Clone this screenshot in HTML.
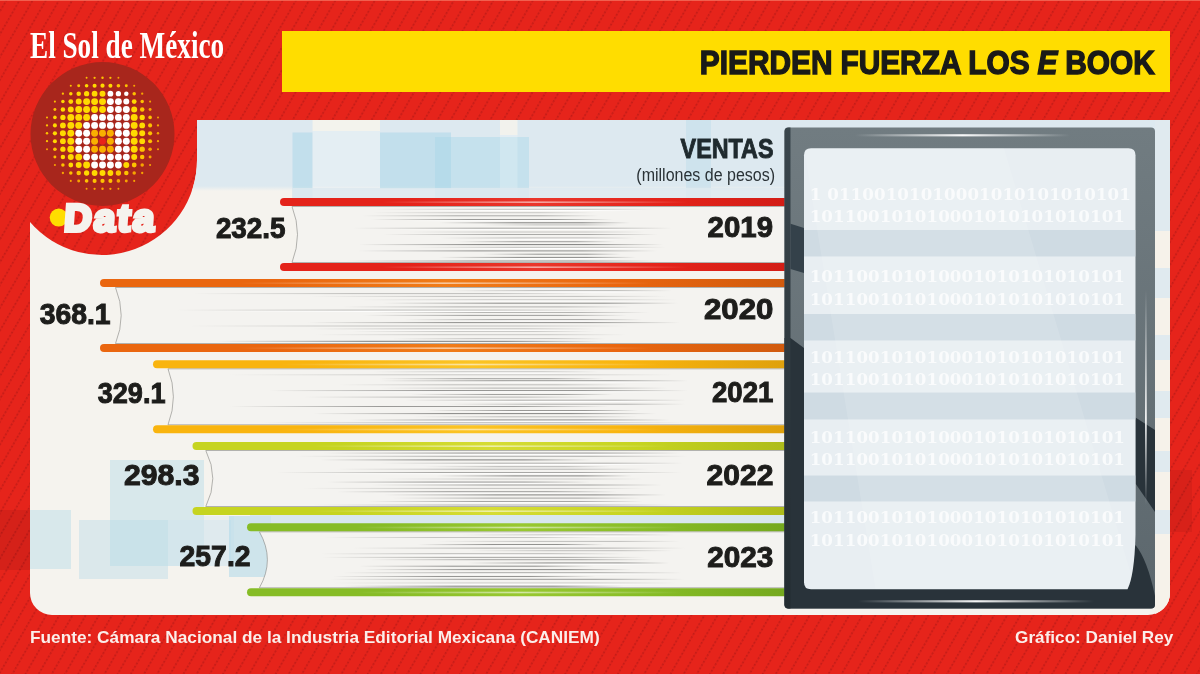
<!DOCTYPE html>
<html lang="es"><head><meta charset="utf-8"><title>Pierden fuerza los e book</title>
<style>
html,body{margin:0;padding:0;background:#e6241b;}
#root{position:relative;width:1200px;height:674px;overflow:hidden;background:#e6241b;font-family:"Liberation Sans",sans-serif;}
#art{position:absolute;left:0;top:0;}
.t{position:absolute;white-space:nowrap;line-height:1;margin:0;}
.num{font-weight:bold;font-size:29.4px;color:#1d1d1b;-webkit-text-stroke:1px #1d1d1b;transform-origin:100% 50%;}
.yr{font-weight:bold;font-size:29.4px;color:#1d1d1b;-webkit-text-stroke:1px #1d1d1b;text-align:right;transform-origin:100% 50%;}
.bin{font-family:"DejaVu Serif",serif;font-weight:bold;font-size:16.65px;color:rgba(255,255,255,.74);letter-spacing:.1px;}
</style></head><body>
<div id="root">

<svg id="art" width="1200" height="674" viewBox="0 0 1200 674">
<defs>
<pattern id="stripes" width="11.4" height="3.8" patternUnits="userSpaceOnUse" patternTransform="rotate(30)">
  <rect x="5.2" y="0" width="1" height="3.8" fill="#c41c1a" opacity=".42"/>
  <rect x="5" y="0" width="1.3" height="1.5" fill="#a01212" opacity=".6"/>
</pattern>
<clipPath id="panelclip"><path id="pp" d="M197,120 L1170,120 L1170,593 A22,22 0 0 1 1148,615 L52,615 A22,22 0 0 1 30,593 L30,222 A95,95 0 0 0 197,160 Z"/></clipPath>
<linearGradient id="topband" x1="0" y1="0" x2="0" y2="1">
  <stop offset="0" stop-color="#dde9f0"/><stop offset=".93" stop-color="#dde9f0"/><stop offset="1" stop-color="#f5f3ee"/>
</linearGradient>
<linearGradient id="frameg" x1="0" y1="0" x2="0" y2="1">
  <stop offset="0" stop-color="#717c81"/><stop offset="1" stop-color="#5c676d"/>
</linearGradient>
<linearGradient id="stripg" x1="0" y1="0" x2="0" y2="1"><stop offset="0" stop-color="#3a464d"/><stop offset="1" stop-color="#232c31"/></linearGradient>
<linearGradient id="hl" x1="0" y1="0" x2="1" y2="0">
  <stop offset="0" stop-color="#fff" stop-opacity="0"/><stop offset=".5" stop-color="#fff" stop-opacity=".95"/><stop offset="1" stop-color="#fff" stop-opacity="0"/>
</linearGradient>
<linearGradient id="hlv" x1="0" y1="0" x2="0" y2="1">
  <stop offset="0" stop-color="#fff" stop-opacity="0"/><stop offset=".6" stop-color="#fff" stop-opacity=".9"/><stop offset="1" stop-color="#fff" stop-opacity="0"/>
</linearGradient>

<linearGradient id="gb1" x1="0" y1="0" x2="1" y2="0"><stop offset="0" stop-color="#e4231a"/><stop offset=".25" stop-color="#e4231a"/><stop offset=".5" stop-color="#ea362b"/><stop offset=".75" stop-color="#e4231a"/><stop offset="1" stop-color="#d21d16"/></linearGradient>
<linearGradient id="gb2" x1="0" y1="0" x2="1" y2="0"><stop offset="0" stop-color="#ea660f"/><stop offset=".25" stop-color="#ea660f"/><stop offset=".5" stop-color="#f07c18"/><stop offset=".75" stop-color="#ea660f"/><stop offset="1" stop-color="#d05a0e"/></linearGradient>
<linearGradient id="gb3" x1="0" y1="0" x2="1" y2="0"><stop offset="0" stop-color="#f9b40e"/><stop offset=".25" stop-color="#f9b40e"/><stop offset=".5" stop-color="#fbc424"/><stop offset=".75" stop-color="#f9b40e"/><stop offset="1" stop-color="#dea00c"/></linearGradient>
<linearGradient id="gb4" x1="0" y1="0" x2="1" y2="0"><stop offset="0" stop-color="#c6d420"/><stop offset=".25" stop-color="#c6d420"/><stop offset=".5" stop-color="#d6dc34"/><stop offset=".75" stop-color="#c6d420"/><stop offset="1" stop-color="#adbb1a"/></linearGradient>
<linearGradient id="gb5" x1="0" y1="0" x2="1" y2="0"><stop offset="0" stop-color="#86bc26"/><stop offset=".25" stop-color="#86bc26"/><stop offset=".5" stop-color="#98c830"/><stop offset=".75" stop-color="#86bc26"/><stop offset="1" stop-color="#74a81e"/></linearGradient>
<linearGradient id="pagefade" x1="0" y1="0" x2="1" y2="0"><stop offset="0" stop-color="#f4f2ee"/><stop offset="1" stop-color="#efeeeb"/></linearGradient>
</defs>
<rect x="0" y="0" width="1200" height="674" fill="#e6241b"/>
<rect x="0" y="0" width="1200" height="674" fill="url(#stripes)"/>
<rect x="0" y="0" width="1200" height="1" fill="#f26a58" opacity=".85"/>
<rect x="0" y="510" width="30" height="60" fill="#000" opacity=".07"/>
<rect x="1170" y="470" width="22" height="62" fill="#000" opacity=".06"/>
<use href="#pp" fill="#f5f3ee"/>
<g clip-path="url(#panelclip)">
<rect x="30" y="120" width="1140" height="71" fill="url(#topband)"/>
<rect x="292.5" y="132.5" width="20" height="65.5" fill="#a8d6e8" opacity="0.5"/>
<rect x="312.5" y="120" width="67.5" height="11" fill="#f7f4ec" opacity="0.85"/>
<rect x="312.5" y="131" width="67.5" height="58" fill="#ffffff" opacity="0.22"/>
<rect x="380" y="132.5" width="71" height="56.5" fill="#a8d6e8" opacity="0.5"/>
<rect x="435" y="137" width="94" height="61" fill="#a8d6e8" opacity="0.45"/>
<rect x="500" y="120" width="17.5" height="15" fill="#f7f4ec" opacity="0.8"/>
<rect x="500" y="135" width="17.5" height="63" fill="#ffffff" opacity="0.2"/>
<rect x="686" y="120" width="25" height="78" fill="#b9d9e8" opacity="0.4"/>
<rect x="292.5" y="188" width="493" height="10" fill="#dde9f0" opacity="0.85"/>
<rect x="110" y="460" width="94" height="106" fill="#b0d8e8" opacity="0.42"/>
<rect x="30" y="510" width="41" height="59" fill="#b0d8e8" opacity="0.42"/>
<rect x="79" y="520" width="89" height="59" fill="#b0d8e8" opacity="0.38"/>
<rect x="168" y="520" width="63" height="46" fill="#cfe3ee" opacity="0.4"/>
<rect x="204" y="516" width="30" height="50" fill="#cfe3ee" opacity="0.3"/>
<rect x="229" y="516" width="42" height="61" fill="#a8d6e8" opacity="0.5"/>
<rect x="250" y="515" width="536" height="9" fill="#cfe3ee" opacity="0.75"/>
<rect x="1155" y="120" width="15" height="495" fill="#e0eaef" opacity="1"/>
<rect x="1155" y="231" width="15" height="37" fill="#f6f2ea" opacity="1"/>
<rect x="1155" y="298" width="15" height="37" fill="#f6f2ea" opacity="1"/>
<rect x="1155" y="360" width="15" height="31" fill="#f6f2ea" opacity="1"/>
<rect x="1155" y="418" width="15" height="33" fill="#f6f2ea" opacity="1"/>
<rect x="1155" y="472" width="15" height="38" fill="#f6f2ea" opacity="1"/>
<rect x="1155" y="534" width="15" height="81" fill="#f6f2ea" opacity="1"/>
</g>
<path d="M292,206 L790,206 L790,263 L292,263 Q303.0,234.5 292,206 Z" fill="#f4f3f0"/>
<rect x="375" y="208.8" width="280" height="1" fill="url(#ln)" opacity="0.40"/>
<rect x="405" y="210.0" width="240" height="1.1" fill="url(#lw)" opacity=".9"/>
<rect x="372" y="212.2" width="223" height="1" fill="url(#ln)" opacity="0.37"/>
<rect x="362" y="215.3" width="237" height="1" fill="url(#ln)" opacity="0.63"/>
<rect x="371" y="219.0" width="242" height="1" fill="url(#ln)" opacity="0.76"/>
<rect x="401" y="220.2" width="202" height="1.1" fill="url(#lw)" opacity=".9"/>
<rect x="439" y="222.3" width="191" height="1" fill="url(#ln)" opacity="0.98"/>
<rect x="481" y="224.4" width="138" height="1" fill="url(#ln)" opacity="0.44"/>
<rect x="353" y="227.7" width="319" height="1" fill="url(#ln)" opacity="0.73"/>
<rect x="383" y="228.9" width="279" height="1.1" fill="url(#lw)" opacity=".9"/>
<rect x="408" y="231.5" width="237" height="1" fill="url(#ln)" opacity="0.39"/>
<rect x="383" y="234.0" width="275" height="1" fill="url(#ln)" opacity="0.63"/>
<rect x="440" y="237.5" width="195" height="1" fill="url(#ln)" opacity="0.54"/>
<rect x="470" y="238.7" width="155" height="1.1" fill="url(#lw)" opacity=".9"/>
<rect x="457" y="241.2" width="158" height="1" fill="url(#ln)" opacity="0.72"/>
<rect x="359" y="244.1" width="304" height="1" fill="url(#ln)" opacity="0.99"/>
<rect x="415" y="246.8" width="251" height="1" fill="url(#ln)" opacity="0.45"/>
<rect x="445" y="248.0" width="211" height="1.1" fill="url(#lw)" opacity=".9"/>
<rect x="358" y="250.4" width="299" height="1" fill="url(#ln)" opacity="0.85"/>
<rect x="483" y="253.7" width="138" height="1" fill="url(#ln)" opacity="0.80"/>
<rect x="439" y="256.9" width="197" height="1" fill="url(#ln)" opacity="0.90"/>
<rect x="469" y="258.1" width="157" height="1.1" fill="url(#lw)" opacity=".9"/>
<rect x="346" y="260.5" width="311" height="1" fill="url(#ln)" opacity="0.81"/>
<path d="M790,206.5 L292,206.5 Q303.0,234.5 292,262.5 L790,262.5" fill="none" stroke="#8a8a88" stroke-width=".8" opacity=".8"/>
<rect x="280" y="198" width="510" height="8" rx="4" fill="url(#gb1)"/>
<rect x="382" y="201.4" width="306" height="1.6" fill="url(#hl)" opacity=".6"/>
<rect x="280" y="263" width="510" height="8" rx="4" fill="url(#gb1)"/>
<rect x="382" y="266.4" width="306" height="1.6" fill="url(#hl)" opacity=".6"/>
<path d="M115.5,287 L790,287 L790,344 L115.5,344 Q126.9,315.5 115.5,287 Z" fill="#f4f3f0"/>
<rect x="449" y="290.2" width="223" height="1" fill="url(#ln)" opacity="0.53"/>
<rect x="479" y="291.4" width="183" height="1.1" fill="url(#lw)" opacity=".9"/>
<rect x="193" y="293.1" width="399" height="1" fill="url(#ln)" opacity="0.46"/>
<rect x="309" y="295.9" width="358" height="1" fill="url(#ln)" opacity="0.43"/>
<rect x="359" y="299.3" width="318" height="1" fill="url(#ln)" opacity="0.40"/>
<rect x="389" y="300.5" width="278" height="1.1" fill="url(#lw)" opacity=".9"/>
<rect x="382" y="302.7" width="296" height="1" fill="url(#ln)" opacity="0.88"/>
<rect x="342" y="306.4" width="290" height="1" fill="url(#ln)" opacity="0.58"/>
<rect x="176" y="309.6" width="429" height="1" fill="url(#ln)" opacity="0.50"/>
<rect x="206" y="310.8" width="389" height="1.1" fill="url(#lw)" opacity=".9"/>
<rect x="373" y="312.0" width="276" height="1" fill="url(#ln)" opacity="0.52"/>
<rect x="363" y="314.9" width="264" height="1" fill="url(#ln)" opacity="0.72"/>
<rect x="404" y="319.2" width="238" height="1" fill="url(#ln)" opacity="0.75"/>
<rect x="434" y="320.4" width="198" height="1.1" fill="url(#lw)" opacity=".9"/>
<rect x="308" y="322.1" width="372" height="1" fill="url(#ln)" opacity="0.86"/>
<rect x="189" y="325.5" width="440" height="1" fill="url(#ln)" opacity="0.42"/>
<rect x="309" y="328.4" width="287" height="1" fill="url(#ln)" opacity="0.49"/>
<rect x="339" y="329.6" width="247" height="1.1" fill="url(#lw)" opacity=".9"/>
<rect x="351" y="331.0" width="244" height="1" fill="url(#ln)" opacity="0.35"/>
<rect x="315" y="334.2" width="311" height="1" fill="url(#ln)" opacity="0.37"/>
<rect x="392" y="338.3" width="213" height="1" fill="url(#ln)" opacity="0.51"/>
<rect x="422" y="339.5" width="173" height="1.1" fill="url(#lw)" opacity=".9"/>
<rect x="216" y="340.8" width="386" height="1" fill="url(#ln)" opacity="1.00"/>
<path d="M790,287.5 L115.5,287.5 Q126.9,315.5 115.5,343.5 L790,343.5" fill="none" stroke="#8a8a88" stroke-width=".8" opacity=".8"/>
<rect x="100" y="279" width="690" height="8" rx="4" fill="url(#gb2)"/>
<rect x="238" y="282.4" width="414" height="1.6" fill="url(#hl)" opacity=".6"/>
<rect x="100" y="344" width="690" height="8" rx="4" fill="url(#gb2)"/>
<rect x="238" y="347.4" width="414" height="1.6" fill="url(#hl)" opacity=".6"/>
<path d="M168,368.3 L790,368.3 L790,425.3 L168,425.3 Q178.8,396.8 168,368.3 Z" fill="#f4f3f0"/>
<rect x="373" y="371.3" width="226" height="1" fill="url(#ln)" opacity="0.42"/>
<rect x="403" y="372.5" width="186" height="1.1" fill="url(#lw)" opacity=".9"/>
<rect x="228" y="374.3" width="445" height="1" fill="url(#ln)" opacity="0.37"/>
<rect x="379" y="378.2" width="225" height="1" fill="url(#ln)" opacity="0.70"/>
<rect x="379" y="380.3" width="309" height="1" fill="url(#ln)" opacity="0.91"/>
<rect x="409" y="381.5" width="269" height="1.1" fill="url(#lw)" opacity=".9"/>
<rect x="339" y="384.3" width="288" height="1" fill="url(#ln)" opacity="0.46"/>
<rect x="380" y="387.6" width="288" height="1" fill="url(#ln)" opacity="0.56"/>
<rect x="269" y="390.1" width="419" height="1" fill="url(#ln)" opacity="0.87"/>
<rect x="299" y="391.3" width="379" height="1.1" fill="url(#lw)" opacity=".9"/>
<rect x="411" y="394.0" width="202" height="1" fill="url(#ln)" opacity="0.69"/>
<rect x="304" y="396.6" width="288" height="1" fill="url(#ln)" opacity="0.53"/>
<rect x="404" y="399.7" width="282" height="1" fill="url(#ln)" opacity="0.64"/>
<rect x="434" y="400.9" width="242" height="1.1" fill="url(#lw)" opacity=".9"/>
<rect x="448" y="403.7" width="237" height="1" fill="url(#ln)" opacity="0.59"/>
<rect x="230" y="406.0" width="379" height="1" fill="url(#ln)" opacity="0.76"/>
<rect x="426" y="410.0" width="212" height="1" fill="url(#ln)" opacity="0.77"/>
<rect x="456" y="411.2" width="172" height="1.1" fill="url(#lw)" opacity=".9"/>
<rect x="313" y="413.1" width="343" height="1" fill="url(#ln)" opacity="0.94"/>
<rect x="413" y="416.3" width="225" height="1" fill="url(#ln)" opacity="0.47"/>
<rect x="350" y="419.5" width="320" height="1" fill="url(#ln)" opacity="0.98"/>
<rect x="380" y="420.7" width="280" height="1.1" fill="url(#lw)" opacity=".9"/>
<rect x="261" y="422.2" width="423" height="1" fill="url(#ln)" opacity="0.46"/>
<path d="M790,368.8 L168,368.8 Q178.8,396.8 168,424.8 L790,424.8" fill="none" stroke="#8a8a88" stroke-width=".8" opacity=".8"/>
<rect x="153" y="360.3" width="637" height="8" rx="4" fill="url(#gb3)"/>
<rect x="280" y="363.7" width="382" height="1.6" fill="url(#hl)" opacity=".6"/>
<rect x="153" y="425.3" width="637" height="8" rx="4" fill="url(#gb3)"/>
<rect x="280" y="428.7" width="382" height="1.6" fill="url(#hl)" opacity=".6"/>
<path d="M205.8,450 L790,450 L790,507 L205.8,507 Q219.8,478.5 205.8,450 Z" fill="#f4f3f0"/>
<rect x="323" y="452.6" width="358" height="1" fill="url(#ln)" opacity="0.87"/>
<rect x="353" y="453.8" width="318" height="1.1" fill="url(#lw)" opacity=".9"/>
<rect x="295" y="455.8" width="393" height="1" fill="url(#ln)" opacity="0.58"/>
<rect x="320" y="459.4" width="272" height="1" fill="url(#ln)" opacity="0.98"/>
<rect x="379" y="462.7" width="304" height="1" fill="url(#ln)" opacity="0.63"/>
<rect x="409" y="463.9" width="264" height="1.1" fill="url(#lw)" opacity=".9"/>
<rect x="424" y="466.2" width="187" height="1" fill="url(#ln)" opacity="0.51"/>
<rect x="336" y="468.7" width="313" height="1" fill="url(#ln)" opacity="0.52"/>
<rect x="277" y="472.0" width="404" height="1" fill="url(#ln)" opacity="0.65"/>
<rect x="307" y="473.2" width="364" height="1.1" fill="url(#lw)" opacity=".9"/>
<rect x="436" y="475.4" width="196" height="1" fill="url(#ln)" opacity="0.95"/>
<rect x="380" y="478.5" width="263" height="1" fill="url(#ln)" opacity="0.36"/>
<rect x="327" y="481.6" width="263" height="1" fill="url(#ln)" opacity="0.87"/>
<rect x="357" y="482.8" width="223" height="1.1" fill="url(#lw)" opacity=".9"/>
<rect x="371" y="484.5" width="291" height="1" fill="url(#ln)" opacity="0.71"/>
<rect x="303" y="487.9" width="343" height="1" fill="url(#ln)" opacity="0.42"/>
<rect x="337" y="491.3" width="280" height="1" fill="url(#ln)" opacity="0.85"/>
<rect x="367" y="492.5" width="240" height="1.1" fill="url(#lw)" opacity=".9"/>
<rect x="384" y="494.4" width="282" height="1" fill="url(#ln)" opacity="0.94"/>
<rect x="392" y="497.6" width="249" height="1" fill="url(#ln)" opacity="0.68"/>
<rect x="368" y="501.0" width="275" height="1" fill="url(#ln)" opacity="0.66"/>
<rect x="398" y="502.2" width="235" height="1.1" fill="url(#lw)" opacity=".9"/>
<rect x="312" y="504.5" width="365" height="1" fill="url(#ln)" opacity="0.52"/>
<path d="M790,450.5 L205.8,450.5 Q219.8,478.5 205.8,506.5 L790,506.5" fill="none" stroke="#8a8a88" stroke-width=".8" opacity=".8"/>
<rect x="192.5" y="442" width="597.5" height="8" rx="4" fill="url(#gb4)"/>
<rect x="312" y="445.4" width="358" height="1.6" fill="url(#hl)" opacity=".6"/>
<rect x="192.5" y="507" width="597.5" height="8" rx="4" fill="url(#gb4)"/>
<rect x="312" y="510.4" width="358" height="1.6" fill="url(#hl)" opacity=".6"/>
<path d="M259.4,531.3 L790,531.3 L790,588.3 L259.4,588.3 Q275.4,559.8 259.4,531.3 Z" fill="#f4f3f0"/>
<rect x="461" y="534.4" width="213" height="1" fill="url(#ln)" opacity="0.44"/>
<rect x="491" y="535.6" width="173" height="1.1" fill="url(#lw)" opacity=".9"/>
<rect x="324" y="537.0" width="273" height="1" fill="url(#ln)" opacity="0.40"/>
<rect x="437" y="540.9" width="243" height="1" fill="url(#ln)" opacity="0.45"/>
<rect x="418" y="544.1" width="186" height="1" fill="url(#ln)" opacity="0.92"/>
<rect x="448" y="545.3" width="146" height="1.1" fill="url(#lw)" opacity=".9"/>
<rect x="352" y="547.6" width="333" height="1" fill="url(#ln)" opacity="0.61"/>
<rect x="468" y="550.2" width="205" height="1" fill="url(#ln)" opacity="0.45"/>
<rect x="321" y="553.3" width="303" height="1" fill="url(#ln)" opacity="0.56"/>
<rect x="351" y="554.5" width="263" height="1.1" fill="url(#lw)" opacity=".9"/>
<rect x="322" y="556.9" width="323" height="1" fill="url(#ln)" opacity="0.64"/>
<rect x="369" y="559.2" width="283" height="1" fill="url(#ln)" opacity="0.68"/>
<rect x="467" y="562.5" width="202" height="1" fill="url(#ln)" opacity="0.98"/>
<rect x="497" y="563.7" width="162" height="1.1" fill="url(#lw)" opacity=".9"/>
<rect x="359" y="565.7" width="235" height="1" fill="url(#ln)" opacity="0.86"/>
<rect x="364" y="569.1" width="268" height="1" fill="url(#ln)" opacity="0.88"/>
<rect x="342" y="572.3" width="340" height="1" fill="url(#ln)" opacity="0.72"/>
<rect x="372" y="573.5" width="300" height="1.1" fill="url(#lw)" opacity=".9"/>
<rect x="333" y="576.0" width="263" height="1" fill="url(#ln)" opacity="0.80"/>
<rect x="330" y="578.8" width="354" height="1" fill="url(#ln)" opacity="0.76"/>
<rect x="332" y="582.5" width="344" height="1" fill="url(#ln)" opacity="0.39"/>
<rect x="362" y="583.7" width="304" height="1.1" fill="url(#lw)" opacity=".9"/>
<rect x="343" y="585.7" width="281" height="1" fill="url(#ln)" opacity="0.95"/>
<path d="M790,531.8 L259.4,531.8 Q275.4,559.8 259.4,587.8 L790,587.8" fill="none" stroke="#8a8a88" stroke-width=".8" opacity=".8"/>
<rect x="247" y="523.3" width="543" height="8" rx="4" fill="url(#gb5)"/>
<rect x="356" y="526.6999999999999" width="326" height="1.6" fill="url(#hl)" opacity=".6"/>
<rect x="247" y="588.3" width="543" height="8" rx="4" fill="url(#gb5)"/>
<rect x="356" y="591.6999999999999" width="326" height="1.6" fill="url(#hl)" opacity=".6"/>
<linearGradient id="ln" x1="0" y1="0" x2="1" y2="0"><stop offset="0" stop-color="#7e7e7c" stop-opacity="0"/><stop offset=".4" stop-color="#7e7e7c" stop-opacity="1"/><stop offset=".75" stop-color="#7e7e7c" stop-opacity="1"/><stop offset="1" stop-color="#7e7e7c" stop-opacity="0"/></linearGradient>
<linearGradient id="lw" x1="0" y1="0" x2="1" y2="0"><stop offset="0" stop-color="#fff" stop-opacity="0"/><stop offset=".4" stop-color="#fff" stop-opacity="1"/><stop offset=".75" stop-color="#fff" stop-opacity="1"/><stop offset="1" stop-color="#fff" stop-opacity="0"/></linearGradient>
<rect x="784.5" y="127.5" width="370.5" height="481.0" rx="4" fill="url(#frameg)"/>
<path d="M790.5,338 L804,348 L804,579.3 L1123.5,579.3 L1135.5,545 Q1147.5,560 1155,596 L1155,604.5 Q1155,608.5 1151,608.5 L788.5,608.5 Q784.5,608.5 784.5,604.5 L784.5,338 Z" fill="#29333a"/>
<path d="M788.5,127.5 L790.5,127.5 L790.5,608.5 L788.5,608.5 Q784.5,608.5 784.5,604.5 L784.5,131.5 Q784.5,127.5 788.5,127.5 Z" fill="url(#stripg)"/>
<path d="M790.5,223.7 L804,228.1 L804,272.9 L790.5,268.9 Z" fill="#34414a"/>
<path d="M1135.5,417.5 L1155,430 L1155,512 L1135.5,483.6 Z" fill="#29333a"/>
<path d="M811,148.3 L1128.5,148.3 Q1135.5,148.3 1135.5,155.3 L1135.5,535 Q1134.5,575 1127.5,589.3 L811,589.3 Q804,589.3 804,582.3 L804,155.3 Q804,148.3 811,148.3 Z" fill="#e8eef2"/>
<clipPath id="scr"><path d="M811,148.3 L1128.5,148.3 Q1135.5,148.3 1135.5,155.3 L1135.5,535 Q1134.5,575 1127.5,589.3 L811,589.3 Q804,589.3 804,582.3 L804,155.3 Q804,148.3 811,148.3 Z"/></clipPath>
<g clip-path="url(#scr)">
<rect x="804" y="230" width="331.5" height="26.5" fill="#cfdbe3"/>
<rect x="804" y="314" width="331.5" height="26.5" fill="#cfdbe3"/>
<rect x="804" y="392.5" width="331.5" height="27.0" fill="#cfdbe3"/>
<rect x="804" y="475.5" width="331.5" height="26.0" fill="#cfdbe3"/>
<path d="M804,148.3 L1004,148.3 L1135.5,589.3 L875.5,589.3 Z" fill="#ffffff" opacity=".12"/>
</g>
<rect x="855" y="134.2" width="215" height="2.2" fill="url(#hl)"/>
<rect x="858" y="600.2" width="236" height="2.2" fill="url(#hl)"/>
<rect x="1145" y="290" width="1.8" height="215" fill="url(#hlv)"/>
<circle cx="102.5" cy="134.0" r="72" fill="#a8261c"/>
<circle cx="86.6" cy="77.8" r="0.98" fill="#fdc200"/>
<circle cx="94.6" cy="77.8" r="1.16" fill="#fdc200"/>
<circle cx="102.5" cy="77.8" r="1.23" fill="#fdc200"/>
<circle cx="110.4" cy="77.8" r="1.16" fill="#fdc200"/>
<circle cx="118.4" cy="77.8" r="0.98" fill="#f7a400"/>
<circle cx="70.8" cy="85.7" r="1.04" fill="#fdc200"/>
<circle cx="78.7" cy="85.7" r="1.48" fill="#fdc200"/>
<circle cx="86.6" cy="85.7" r="1.82" fill="#ffd900"/>
<circle cx="94.6" cy="85.7" r="2.03" fill="#ffd900"/>
<circle cx="102.5" cy="85.7" r="2.11" fill="#ffd900"/>
<circle cx="110.4" cy="85.7" r="2.03" fill="#ffd900"/>
<circle cx="118.4" cy="85.7" r="1.82" fill="#fdc200"/>
<circle cx="126.3" cy="85.7" r="1.48" fill="#fdc200"/>
<circle cx="134.2" cy="85.7" r="1.04" fill="#f7a400"/>
<circle cx="62.9" cy="93.7" r="1.16" fill="#fdc200"/>
<circle cx="70.8" cy="93.7" r="1.75" fill="#ffd900"/>
<circle cx="78.7" cy="93.7" r="2.25" fill="#ffd900"/>
<circle cx="86.6" cy="93.7" r="2.65" fill="#ffd900"/>
<circle cx="94.6" cy="93.7" r="2.90" fill="#ffd900"/>
<circle cx="102.5" cy="93.7" r="2.99" fill="#ffd900"/>
<circle cx="110.4" cy="93.7" r="2.90" fill="#ffffff"/>
<circle cx="118.4" cy="93.7" r="2.65" fill="#ffffff"/>
<circle cx="126.3" cy="93.7" r="2.25" fill="#ffffff"/>
<circle cx="134.2" cy="93.7" r="1.75" fill="#fdc200"/>
<circle cx="142.2" cy="93.7" r="1.16" fill="#f7a400"/>
<circle cx="54.9" cy="101.6" r="1.04" fill="#fdc200"/>
<circle cx="62.9" cy="101.6" r="1.75" fill="#ffd900"/>
<circle cx="70.8" cy="101.6" r="2.41" fill="#ffd900"/>
<circle cx="78.7" cy="101.6" r="2.99" fill="#ffd900"/>
<circle cx="86.6" cy="101.6" r="3.45" fill="#ffd900"/>
<circle cx="94.6" cy="101.6" r="3.45" fill="#ffd900"/>
<circle cx="102.5" cy="101.6" r="3.45" fill="#ffd900"/>
<circle cx="110.4" cy="101.6" r="3.45" fill="#ffffff"/>
<circle cx="118.4" cy="101.6" r="3.45" fill="#ffffff"/>
<circle cx="126.3" cy="101.6" r="2.99" fill="#ffffff"/>
<circle cx="134.2" cy="101.6" r="2.41" fill="#ffd900"/>
<circle cx="142.2" cy="101.6" r="1.75" fill="#fdc200"/>
<circle cx="150.1" cy="101.6" r="1.04" fill="#f7a400"/>
<circle cx="54.9" cy="109.5" r="1.48" fill="#fdc200"/>
<circle cx="62.9" cy="109.5" r="2.25" fill="#ffd900"/>
<circle cx="70.8" cy="109.5" r="2.99" fill="#ffd900"/>
<circle cx="78.7" cy="109.5" r="3.45" fill="#ffd900"/>
<circle cx="86.6" cy="109.5" r="3.45" fill="#ffd900"/>
<circle cx="94.6" cy="109.5" r="3.45" fill="#ffd900"/>
<circle cx="102.5" cy="109.5" r="3.45" fill="#ffd900"/>
<circle cx="110.4" cy="109.5" r="3.45" fill="#ffffff"/>
<circle cx="118.4" cy="109.5" r="3.45" fill="#ffffff"/>
<circle cx="126.3" cy="109.5" r="3.45" fill="#ffffff"/>
<circle cx="134.2" cy="109.5" r="2.99" fill="#ffd900"/>
<circle cx="142.2" cy="109.5" r="2.25" fill="#fdc200"/>
<circle cx="150.1" cy="109.5" r="1.48" fill="#f7a400"/>
<circle cx="47.0" cy="117.4" r="0.98" fill="#fdc200"/>
<circle cx="54.9" cy="117.4" r="1.82" fill="#ffd900"/>
<circle cx="62.9" cy="117.4" r="2.65" fill="#ffd900"/>
<circle cx="70.8" cy="117.4" r="3.45" fill="#ffd900"/>
<circle cx="78.7" cy="117.4" r="3.45" fill="#ffd900"/>
<circle cx="86.6" cy="117.4" r="3.45" fill="#ffd900"/>
<circle cx="94.6" cy="117.4" r="3.45" fill="#ffffff"/>
<circle cx="102.5" cy="117.4" r="3.45" fill="#ffffff"/>
<circle cx="110.4" cy="117.4" r="3.45" fill="#ffffff"/>
<circle cx="118.4" cy="117.4" r="3.45" fill="#ffffff"/>
<circle cx="126.3" cy="117.4" r="3.45" fill="#ffffff"/>
<circle cx="134.2" cy="117.4" r="3.45" fill="#ffd900"/>
<circle cx="142.2" cy="117.4" r="2.65" fill="#ffd900"/>
<circle cx="150.1" cy="117.4" r="1.82" fill="#fdc200"/>
<circle cx="158.0" cy="117.4" r="0.98" fill="#f7a400"/>
<circle cx="47.0" cy="125.4" r="1.16" fill="#fdc200"/>
<circle cx="54.9" cy="125.4" r="2.03" fill="#ffd900"/>
<circle cx="62.9" cy="125.4" r="2.90" fill="#ffd900"/>
<circle cx="70.8" cy="125.4" r="3.45" fill="#ffd900"/>
<circle cx="78.7" cy="125.4" r="3.45" fill="#ffd900"/>
<circle cx="86.6" cy="125.4" r="3.45" fill="#ffffff"/>
<circle cx="94.6" cy="125.4" r="3.45" fill="#ffffff"/>
<circle cx="102.5" cy="125.4" r="3.45" fill="#ffffff"/>
<circle cx="110.4" cy="125.4" r="3.45" fill="#ffffff"/>
<circle cx="118.4" cy="125.4" r="3.45" fill="#ffffff"/>
<circle cx="126.3" cy="125.4" r="3.45" fill="#ffffff"/>
<circle cx="134.2" cy="125.4" r="3.45" fill="#ffd900"/>
<circle cx="142.2" cy="125.4" r="2.90" fill="#ffd900"/>
<circle cx="150.1" cy="125.4" r="2.03" fill="#fdc200"/>
<circle cx="158.0" cy="125.4" r="1.16" fill="#f7a400"/>
<circle cx="47.0" cy="133.3" r="1.23" fill="#fdc200"/>
<circle cx="54.9" cy="133.3" r="2.11" fill="#ffd900"/>
<circle cx="62.9" cy="133.3" r="2.99" fill="#ffd900"/>
<circle cx="70.8" cy="133.3" r="3.45" fill="#ffd900"/>
<circle cx="78.7" cy="133.3" r="3.45" fill="#ffffff"/>
<circle cx="86.6" cy="133.3" r="3.45" fill="#ffffff"/>
<circle cx="94.6" cy="133.3" r="3.45" fill="#f9b000"/>
<circle cx="102.5" cy="133.3" r="3.45" fill="#f9b000"/>
<circle cx="110.4" cy="133.3" r="3.45" fill="#f9b000"/>
<circle cx="118.4" cy="133.3" r="3.45" fill="#ffffff"/>
<circle cx="126.3" cy="133.3" r="3.45" fill="#ffffff"/>
<circle cx="134.2" cy="133.3" r="3.45" fill="#ffd900"/>
<circle cx="142.2" cy="133.3" r="2.99" fill="#ffd900"/>
<circle cx="150.1" cy="133.3" r="2.11" fill="#fdc200"/>
<circle cx="158.0" cy="133.3" r="1.23" fill="#f7a400"/>
<circle cx="47.0" cy="141.2" r="1.16" fill="#fdc200"/>
<circle cx="54.9" cy="141.2" r="2.03" fill="#ffd900"/>
<circle cx="62.9" cy="141.2" r="2.90" fill="#ffd900"/>
<circle cx="70.8" cy="141.2" r="3.45" fill="#ffd900"/>
<circle cx="78.7" cy="141.2" r="3.45" fill="#ffffff"/>
<circle cx="86.6" cy="141.2" r="3.45" fill="#ffffff"/>
<circle cx="94.6" cy="141.2" r="3.45" fill="#f9b000"/>
<circle cx="102.5" cy="141.2" r="3.45" fill="#e8231a"/>
<circle cx="110.4" cy="141.2" r="3.45" fill="#f9b000"/>
<circle cx="118.4" cy="141.2" r="3.45" fill="#ffffff"/>
<circle cx="126.3" cy="141.2" r="3.45" fill="#ffffff"/>
<circle cx="134.2" cy="141.2" r="3.45" fill="#ffd900"/>
<circle cx="142.2" cy="141.2" r="2.90" fill="#ffd900"/>
<circle cx="150.1" cy="141.2" r="2.03" fill="#fdc200"/>
<circle cx="158.0" cy="141.2" r="1.16" fill="#f7a400"/>
<circle cx="47.0" cy="149.2" r="0.98" fill="#f7a400"/>
<circle cx="54.9" cy="149.2" r="1.82" fill="#fdc200"/>
<circle cx="62.9" cy="149.2" r="2.65" fill="#ffd900"/>
<circle cx="70.8" cy="149.2" r="3.45" fill="#ffd900"/>
<circle cx="78.7" cy="149.2" r="3.45" fill="#ffffff"/>
<circle cx="86.6" cy="149.2" r="3.45" fill="#ffffff"/>
<circle cx="94.6" cy="149.2" r="3.45" fill="#f9b000"/>
<circle cx="102.5" cy="149.2" r="3.45" fill="#f9b000"/>
<circle cx="110.4" cy="149.2" r="3.45" fill="#f9b000"/>
<circle cx="118.4" cy="149.2" r="3.45" fill="#ffffff"/>
<circle cx="126.3" cy="149.2" r="3.45" fill="#ffffff"/>
<circle cx="134.2" cy="149.2" r="3.45" fill="#ffd900"/>
<circle cx="142.2" cy="149.2" r="2.65" fill="#fdc200"/>
<circle cx="150.1" cy="149.2" r="1.82" fill="#f7a400"/>
<circle cx="158.0" cy="149.2" r="0.98" fill="#f7a400"/>
<circle cx="54.9" cy="157.1" r="1.48" fill="#fdc200"/>
<circle cx="62.9" cy="157.1" r="2.25" fill="#ffd900"/>
<circle cx="70.8" cy="157.1" r="2.99" fill="#ffd900"/>
<circle cx="78.7" cy="157.1" r="3.45" fill="#ffd900"/>
<circle cx="86.6" cy="157.1" r="3.45" fill="#ffffff"/>
<circle cx="94.6" cy="157.1" r="3.45" fill="#ffffff"/>
<circle cx="102.5" cy="157.1" r="3.45" fill="#ffffff"/>
<circle cx="110.4" cy="157.1" r="3.45" fill="#ffffff"/>
<circle cx="118.4" cy="157.1" r="3.45" fill="#ffffff"/>
<circle cx="126.3" cy="157.1" r="3.45" fill="#ffffff"/>
<circle cx="134.2" cy="157.1" r="2.99" fill="#ffd900"/>
<circle cx="142.2" cy="157.1" r="2.25" fill="#fdc200"/>
<circle cx="150.1" cy="157.1" r="1.48" fill="#f7a400"/>
<circle cx="54.9" cy="165.0" r="1.04" fill="#f7a400"/>
<circle cx="62.9" cy="165.0" r="1.75" fill="#fdc200"/>
<circle cx="70.8" cy="165.0" r="2.41" fill="#ffd900"/>
<circle cx="78.7" cy="165.0" r="2.99" fill="#ffd900"/>
<circle cx="86.6" cy="165.0" r="3.45" fill="#ffd900"/>
<circle cx="94.6" cy="165.0" r="3.45" fill="#ffffff"/>
<circle cx="102.5" cy="165.0" r="3.45" fill="#ffffff"/>
<circle cx="110.4" cy="165.0" r="3.45" fill="#ffffff"/>
<circle cx="118.4" cy="165.0" r="3.45" fill="#ffffff"/>
<circle cx="126.3" cy="165.0" r="2.99" fill="#ffd900"/>
<circle cx="134.2" cy="165.0" r="2.41" fill="#fdc200"/>
<circle cx="142.2" cy="165.0" r="1.75" fill="#f7a400"/>
<circle cx="150.1" cy="165.0" r="1.04" fill="#f7a400"/>
<circle cx="62.9" cy="173.0" r="1.16" fill="#f7a400"/>
<circle cx="70.8" cy="173.0" r="1.75" fill="#fdc200"/>
<circle cx="78.7" cy="173.0" r="2.25" fill="#fdc200"/>
<circle cx="86.6" cy="173.0" r="2.65" fill="#ffd900"/>
<circle cx="94.6" cy="173.0" r="2.90" fill="#ffd900"/>
<circle cx="102.5" cy="173.0" r="2.99" fill="#ffd900"/>
<circle cx="110.4" cy="173.0" r="2.90" fill="#ffd900"/>
<circle cx="118.4" cy="173.0" r="2.65" fill="#fdc200"/>
<circle cx="126.3" cy="173.0" r="2.25" fill="#fdc200"/>
<circle cx="134.2" cy="173.0" r="1.75" fill="#f7a400"/>
<circle cx="142.2" cy="173.0" r="1.16" fill="#f7a400"/>
<circle cx="70.8" cy="180.9" r="1.04" fill="#f7a400"/>
<circle cx="78.7" cy="180.9" r="1.48" fill="#f7a400"/>
<circle cx="86.6" cy="180.9" r="1.82" fill="#fdc200"/>
<circle cx="94.6" cy="180.9" r="2.03" fill="#fdc200"/>
<circle cx="102.5" cy="180.9" r="2.11" fill="#fdc200"/>
<circle cx="110.4" cy="180.9" r="2.03" fill="#fdc200"/>
<circle cx="118.4" cy="180.9" r="1.82" fill="#f7a400"/>
<circle cx="126.3" cy="180.9" r="1.48" fill="#f7a400"/>
<circle cx="134.2" cy="180.9" r="1.04" fill="#f7a400"/>
<circle cx="86.6" cy="188.8" r="0.98" fill="#f7a400"/>
<circle cx="94.6" cy="188.8" r="1.16" fill="#f7a400"/>
<circle cx="102.5" cy="188.8" r="1.23" fill="#f7a400"/>
<circle cx="110.4" cy="188.8" r="1.16" fill="#f7a400"/>
<circle cx="118.4" cy="188.8" r="0.98" fill="#f7a400"/>
<circle cx="58.7" cy="217.6" r="9" fill="#ffdd00"/>
</svg>
<div class="t" id="logo" style="left:30.3px;top:25.8px;font-family:'Liberation Serif',serif;font-weight:bold;font-size:38px;color:#fff;transform-origin:0 50%;transform:scaleX(0.7156);">El Sol de México</div>
<div id="titlebar" style="position:absolute;left:282px;top:31px;width:888px;height:61px;background:#ffdd00;"></div>
<div class="t" id="title" style="right:45px;top:45.6px;font-weight:bold;font-size:33.2px;color:#1a1a18;-webkit-text-stroke:1.4px #1a1a18;word-spacing:-0.5px;transform-origin:100% 50%;transform:scaleX(0.8994);">PIERDEN FUERZA LOS <i>E</i> BOOK</div>
<div class="t" id="data" style="left:62.6px;top:199px;font-weight:bold;font-size:38px;color:#f5f3ee;-webkit-text-stroke:4px #f5f3ee;letter-spacing:2.5px;transform-origin:0 100%;transform:skewX(-4deg);">Data</div>
<div class="t" id="ventas" style="right:427px;top:133.5px;font-weight:bold;font-size:28.5px;color:#1f2a2e;-webkit-text-stroke:1px #1f2a2e;transform-origin:100% 50%;transform:scaleX(0.8188);">VENTAS</div>
<div class="t" id="mill" style="right:425.3px;top:166px;font-size:18px;color:#2a3236;transform-origin:100% 50%;transform:scaleX(0.8889);">(millones de pesos)</div>
<div class="t num" id="v0" style="right:914.3px;top:213.3px;transform:scaleX(0.9472);">232.5</div>
<div class="t num" id="v1" style="right:1089.2px;top:298.8px;transform:scaleX(0.9639);">368.1</div>
<div class="t num" id="v2" style="right:1034.3px;top:378.3px;transform:scaleX(0.9222);">329.1</div>
<div class="t num" id="v3" style="right:1000px;top:459.90000000000003px;transform:scaleX(1.0278);">298.3</div>
<div class="t num" id="v4" style="right:949px;top:541.3px;transform:scaleX(0.9653);">257.2</div>
<div class="t yr" id="y0" style="right:427px;top:211.9px;transform:scaleX(1.0000);">2019</div>
<div class="t yr" id="y1" style="right:427px;top:294.4px;transform:scaleX(1.0625);">2020</div>
<div class="t yr" id="y2" style="right:427px;top:377.09999999999997px;transform:scaleX(0.9385);">2021</div>
<div class="t yr" id="y3" style="right:427px;top:459.9px;transform:scaleX(1.0219);">2022</div>
<div class="t yr" id="y4" style="right:427px;top:542.4px;transform:scaleX(1.0125);">2023</div>
<div class="t bin" id="r0" style="left:809.7px;top:185.6px;">1 01100101010001010101010101</div>
<div class="t bin" id="r1" style="left:809.7px;top:208.0px;">101100101010001010101010101</div>
<div class="t bin" id="r2" style="left:809.7px;top:267.6px;">101100101010001010101010101</div>
<div class="t bin" id="r3" style="left:809.7px;top:290.5px;">101100101010001010101010101</div>
<div class="t bin" id="r4" style="left:809.7px;top:348.8px;">101100101010001010101010101</div>
<div class="t bin" id="r5" style="left:809.7px;top:371.0px;">101100101010001010101010101</div>
<div class="t bin" id="r6" style="left:809.7px;top:429.1px;">101100101010001010101010101</div>
<div class="t bin" id="r7" style="left:809.7px;top:450.8px;">101100101010001010101010101</div>
<div class="t bin" id="r8" style="left:809.7px;top:509.0px;">101100101010001010101010101</div>
<div class="t bin" id="r9" style="left:809.7px;top:532.0px;">101100101010001010101010101</div>
<div class="t" id="fuente" style="left:29.5px;top:629.3px;font-weight:bold;font-size:16.5px;color:#fbeeea;transform-origin:0 50%;transform:scaleX(1.0461);">Fuente: Cámara Nacional de la Industria Editorial Mexicana (CANIEM)</div>
<div class="t" id="grafico" style="right:27px;top:629.3px;font-weight:bold;font-size:16.5px;color:#fbeeea;transform-origin:100% 50%;transform:scaleX(1.0387);">Gráfico: Daniel Rey</div>
</div></body></html>
